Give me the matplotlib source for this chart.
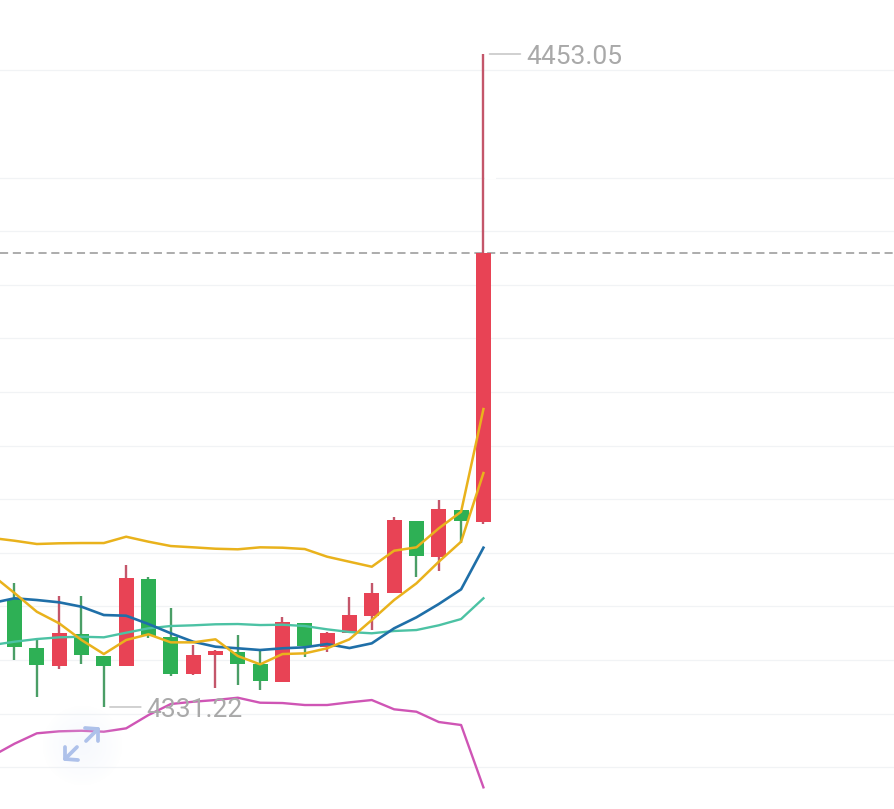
import numpy as np
import matplotlib
matplotlib.use("Agg")
import matplotlib.pyplot as plt

plt.rcParams['font.family'] = ['Roboto', 'DejaVu Sans']

W, H = 894, 809

# candles: open, close, high, low
opens = [4351.42, 4342.28, 4338.92, 4344.84, 4340.73, 4338.81, 4355.10, 4344.28, 4337.43, 4340.86, 4341.42,
         4339.18, 4335.94, 4346.94, 4342.47, 4345.08, 4348.25, 4352.43, 4365.97, 4359.26, 4367.97, 4365.68]
closes = [4342.47, 4339.00, 4344.97, 4340.92, 4338.86, 4355.28, 4344.46, 4337.43, 4340.97, 4341.61, 4339.30,
          4336.01, 4347.02, 4342.60, 4345.08, 4348.32, 4352.43, 4366.05, 4359.33, 4368.10, 4365.86, 4415.92]
highs = [4354.35, 4343.72, 4351.92, 4351.92, 4340.73, 4357.71, 4355.47, 4349.69, 4342.78, 4341.85, 4344.65,
         4341.85, 4347.95, 4346.94, 4345.26, 4351.79, 4354.41, 4366.72, 4366.00, 4369.83, 4367.97, 4453.05]
lows = [4339.98, 4333.14, 4338.30, 4339.24, 4331.22, 4338.81, 4344.09, 4337.00, 4337.24, 4334.82, 4335.32,
        4334.39, 4335.94, 4340.60, 4341.48, 4345.08, 4345.58, 4352.43, 4355.41, 4356.65, 4361.87, 4365.36]

# overlays start one bar before the first visible candle
boll_upper = [4362.75, 4362.24, 4361.63, 4361.76, 4361.81, 4361.81, 4362.99, 4362.06, 4361.25, 4361.01, 4360.75, 4360.64,
              4361.01, 4360.94, 4360.69, 4359.26, 4358.32, 4357.39, 4360.38, 4361.01, 4364.55, 4367.65, 4386.81]
ma_fast = [4355.84, 4352.48, 4348.99, 4346.83, 4343.72, 4341.10, 4343.72, 4344.78, 4343.28, 4343.28, 4343.85, 4340.73,
           4339.18, 4341.10, 4341.23, 4342.17, 4343.85, 4347.45, 4351.18, 4354.29, 4358.32, 4362.06, 4374.87]
ma_mid = [4350.62, 4351.50, 4351.18, 4350.75, 4349.93, 4348.38, 4348.25, 4346.70, 4344.97, 4343.40, 4342.47, 4342.17,
          4341.85, 4342.17, 4342.36, 4342.97, 4342.22, 4343.10, 4345.90, 4347.95, 4350.43, 4353.17, 4360.94]
ma_slow = [4342.78, 4343.40, 4343.90, 4344.22, 4344.33, 4344.22, 4345.08, 4345.90, 4346.33, 4346.46, 4346.65, 4346.70,
           4346.51, 4346.57, 4346.33, 4345.71, 4345.21, 4344.97, 4345.40, 4345.58, 4346.46, 4347.63, 4351.50]
boll_lower = [4322.07, 4324.37, 4326.31, 4326.68, 4326.79, 4326.61, 4327.24, 4329.72, 4331.78, 4332.20, 4332.52, 4332.95,
              4332.02, 4331.96, 4331.59, 4331.59, 4332.09, 4332.52, 4330.79, 4330.34, 4328.42, 4327.86, 4316.23]

grid_levels = [4450, 4430, 4420, 4410, 4400, 4390, 4380, 4370, 4360, 4350, 4340, 4330, 4320]
last_price = 4415.92
max_label = "4453.05"
min_label = "4331.22"

RED, GREEN = "#e84355", "#2eb055"
RED_W, GREEN_W = "#c4566a", "#4a9e66"

fig = plt.figure(figsize=(W / 100, H / 100), dpi=100, facecolor="white")
ax = fig.add_axes([0, 0, 1, 1])
ax.axis("off")

# scale: bar 0 at x=14.5 px, 22.33 px per bar; price 4453.05 at y=54 px, 0.18657 per px
step = 22.33
per_px = 0.18657
ax.set_xlim(-14.5 / step, (W - 14.5) / step)
ax.set_ylim(4453.05 - (H - 54) * per_px, 4453.05 + 54 * per_px)

for g in grid_levels:
    ax.axhline(g, color="#f1f3f5", lw=0.9, zorder=1)
ax.axhline(last_price, color="#a6a6a6", lw=1.3, dashes=(4.5, 2.6), zorder=2)

width = 0.68
xs = np.arange(len(opens))
for x, o, c, h, l in zip(xs, opens, closes, highs, lows):
    up = c >= o
    ax.vlines(x, l, h, color=RED_W if up else GREEN_W, lw=1.7, zorder=3)
    ax.bar(x, abs(c - o), width=width, bottom=min(o, c), color=RED if up else GREEN, lw=0, zorder=4)

lx = np.arange(len(boll_upper)) - 1
ax.plot(lx, ma_slow, color="#4cc2a4", lw=1.7, zorder=5)
ax.plot(lx, ma_mid, color="#1f6fa8", lw=1.9, zorder=6)
ax.plot(lx, boll_lower, color="#cf55b5", lw=1.7, zorder=5)
ax.plot(lx, boll_upper, color="#e9b21c", lw=1.8, zorder=6)
ax.plot(lx, ma_fast, color="#e9b21c", lw=1.8, zorder=7)

# extreme-value labels
hi_i = int(np.argmax(highs))
lo_i = int(np.argmin(lows))
for i, val, label in [(hi_i, highs[hi_i], max_label), (lo_i, lows[lo_i], min_label)]:
    ax.annotate("", xy=(i + 0.27, val), xytext=(i + 1.66, val),
                arrowprops=dict(arrowstyle="-", color="#c4c4c4", lw=1.1, shrinkA=0, shrinkB=0), zorder=8)
    ax.annotate(label, xy=(i + 1.9, val), xytext=(0, -1.9), textcoords="offset points",
                color="#a9a9a9", fontsize=19, va="center", ha="left", zorder=8)

# the wick's halo breaks the 4430 grid line
ax.hlines(4430, hi_i + 0.08, hi_i + 0.55, color="white", lw=1.6, zorder=1.5)

# expand icon, in pixel coordinates
ov = fig.add_axes([0, 0, 1, 1], facecolor="none")
ov.axis("off")
yy, xx = np.mgrid[695:800, 30:135]
r = np.hypot(xx - 82, yy - 745)
rgba = np.zeros(r.shape + (4,))
rgba[..., :3] = matplotlib.colors.to_rgb("#e3ebfa")
rgba[..., 3] = np.clip((40 - r) / 40, 0, 1) ** 0.8 * 0.3
ov.imshow(rgba, extent=(30, 135, 800, 695), zorder=1, interpolation="bilinear", aspect="auto")
ov.set_xlim(0, W)
ov.set_ylim(H, 0)
ic = "#aec1ea"
for pts in ([(85, 728), (98, 729), (98, 741)], [(86, 741), (98, 729)],
            [(65, 747), (65, 759), (78, 760)], [(77, 747), (65, 759)]):
    a = np.array(pts)
    ov.plot(a[:, 0], a[:, 1], color=ic, lw=2.7, solid_capstyle="round", zorder=2)

fig.savefig("out.png", dpi=100, facecolor="white")
